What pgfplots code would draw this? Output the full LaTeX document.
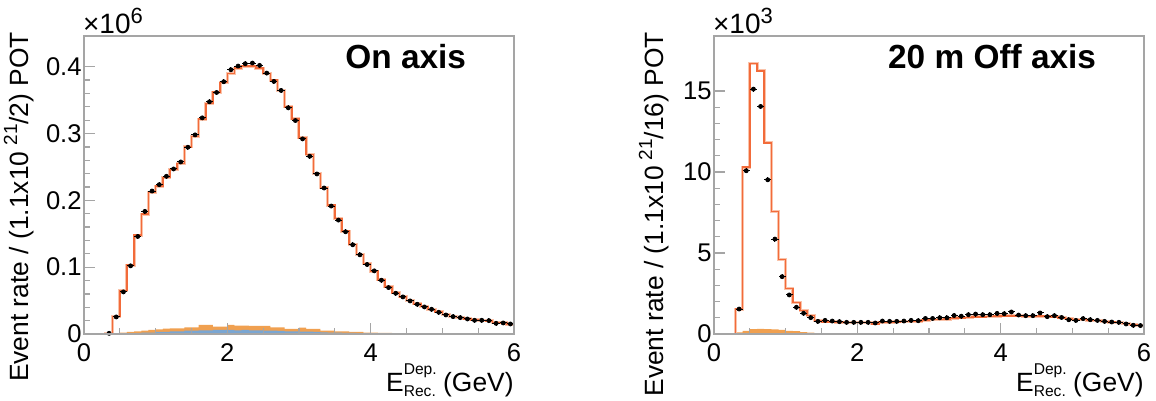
\documentclass[border=0pt]{standalone}
\usepackage{pgfplots}
\pgfplotsset{compat=1.18}
\usepackage{fontspec}
\setmainfont{Liberation Sans}
\definecolor{mcline}{RGB}{242,107,58}
\definecolor{mcband}{RGB}{250,195,170}
\definecolor{bkgorange}{RGB}{240,160,80}
\definecolor{bkgblue}{RGB}{122,166,210}
\definecolor{baseblue}{RGB}{140,190,230}
\definecolor{framegray}{RGB}{165,165,165}
\pgfplotsset{
 rootstyle/.style={
  scale only axis, width=215pt, height=149pt,
  xmin=0, xmax=6, xtick={0,2,4,6}, minor x tick num=3,
  tick align=inside, xtick pos=bottom, ytick pos=left,
  axis line style={framegray, line width=0.6pt},
  every tick/.style={framegray, line width=0.6pt},
  major tick length=5.5pt, minor tick length=2.75pt,
  tick label style={font=\fontsize{12.8}{14}\selectfont, text=black},
  /pgf/number format/assume math mode=true,
  xticklabel style={yshift=-1.5pt},
  yticklabel style={inner xsep=1pt},
  scaled ticks=false,
  clip mode=individual,
  axis on top,
 },
 datastyle/.style={only marks, mark=*, mark size=1.0pt, black,
  error bars/.cd, x dir=both, x fixed=0.05, y dir=both, y fixed=#1,
  error mark=none, error bar style={line width=0.5pt, black}},
}
\newcommand{\lbl}{\fontsize{13.2}{15}\selectfont}
\newcommand{\sml}{\fontsize{7.8}{8}\selectfont}
\begin{document}
\begin{tikzpicture}
\useasboundingbox (0,0) rectangle (578pt,200.5pt);
% ---------------- left: On axis ----------------
\begin{axis}[rootstyle, at={(42pt,33.5pt)}, anchor=south west,
  ymin=0, ymax=0.446, ytick={0,0.1,0.2,0.3,0.4}, minor y tick num=4]
\addplot[const plot mark left, fill=bkgorange, draw=none] table {
x y
0.5 0.002
0.6 0.003
0.7 0.004
0.8 0.005
0.9 0.006
1.0 0.007
1.1 0.008
1.2 0.0085
1.3 0.0085
1.4 0.010
1.5 0.010
1.6 0.0135
1.7 0.0135
1.8 0.011
1.9 0.011
2.0 0.0135
2.1 0.0125
2.2 0.0125
2.3 0.012
2.4 0.012
2.5 0.012
2.6 0.010
2.7 0.010
2.8 0.0075
2.9 0.0075
3.0 0.0095
3.1 0.0075
3.2 0.0075
3.3 0.005
3.4 0.005
3.5 0.004
3.6 0.004
3.7 0.003
3.8 0.003
3.9 0.002
4.0 0.002
4.1 0.0015
4.2 0.0015
4.3 0.001
4.5 0.0007
4.8 0.0004
6.0 0.0004
} \closedcycle;
\addplot[const plot mark left, fill=bkgblue, draw=none] table {
x y
0.7 0.001
0.8 0.002
0.9 0.002
1.0 0.003
1.1 0.003
1.2 0.004
1.3 0.004
1.4 0.005
1.5 0.005
1.6 0.0055
1.7 0.0055
1.8 0.006
1.9 0.006
2.0 0.006
2.1 0.0055
2.2 0.006
2.3 0.0055
2.4 0.0055
2.5 0.005
2.6 0.005
2.7 0.0045
2.8 0.004
2.9 0.004
3.0 0.0035
3.1 0.0035
3.2 0.003
3.3 0.0025
3.4 0.002
3.5 0.002
3.6 0.0015
3.7 0.0015
3.8 0.001
3.9 0.001
4.0 0.0005
4.1 0
6.0 0
} \closedcycle;
\addplot[baseblue, line width=1pt] coordinates {(0,0) (6,0)};
\addplot[const plot mark left, mcband, line width=1.5pt] table {
x y
0.3 0
0.3 0.001
0.4 0.026
0.5 0.065
0.6 0.103
0.7 0.148
0.8 0.1795
0.9 0.212
1.0 0.2215
1.1 0.234
1.2 0.246
1.3 0.255
1.4 0.280
1.5 0.296
1.6 0.3215
1.7 0.345
1.8 0.362
1.9 0.376
2.0 0.390
2.1 0.398
2.2 0.401
2.3 0.401
2.4 0.398
2.5 0.390
2.6 0.380
2.7 0.364
2.8 0.340
2.9 0.322
3.0 0.2935
3.1 0.2685
3.2 0.240
3.3 0.2195
3.4 0.193
3.5 0.1725
3.6 0.154
3.7 0.134
3.8 0.119
3.9 0.105
4.0 0.094
4.1 0.081
4.2 0.0705
4.3 0.0615
4.4 0.0555
4.5 0.050
4.6 0.045
4.7 0.041
4.8 0.037
4.9 0.033
5.0 0.029
5.1 0.0265
5.2 0.0245
5.3 0.0225
5.4 0.021
5.5 0.0205
5.6 0.0195
5.7 0.017
5.8 0.0165
5.9 0.0145
6.0 0.0145
};
\addplot[const plot mark left, mcline, line width=0.7pt] table {
x y
0.3 0
0.3 0.001
0.4 0.026
0.5 0.065
0.6 0.103
0.7 0.148
0.8 0.1795
0.9 0.212
1.0 0.2215
1.1 0.234
1.2 0.246
1.3 0.255
1.4 0.280
1.5 0.296
1.6 0.3215
1.7 0.345
1.8 0.362
1.9 0.376
2.0 0.390
2.1 0.398
2.2 0.401
2.3 0.401
2.4 0.398
2.5 0.390
2.6 0.380
2.7 0.364
2.8 0.340
2.9 0.322
3.0 0.2935
3.1 0.2685
3.2 0.240
3.3 0.2195
3.4 0.193
3.5 0.1725
3.6 0.154
3.7 0.134
3.8 0.119
3.9 0.105
4.0 0.094
4.1 0.081
4.2 0.0705
4.3 0.0615
4.4 0.0555
4.5 0.050
4.6 0.045
4.7 0.041
4.8 0.037
4.9 0.033
5.0 0.029
5.1 0.0265
5.2 0.0245
5.3 0.0225
5.4 0.021
5.5 0.0205
5.6 0.0195
5.7 0.017
5.8 0.0165
5.9 0.0145
6.0 0.0145
};
\addplot[datastyle=0.0035] table {
x y
0.35 0.001
0.45 0.0255
0.55 0.063
0.65 0.102
0.75 0.146
0.85 0.1835
0.95 0.214
1.05 0.2235
1.15 0.236
1.25 0.247
1.35 0.2575
1.45 0.2795
1.55 0.298
1.65 0.3235
1.75 0.3475
1.85 0.3615
1.95 0.3775
2.05 0.3955
2.15 0.401
2.25 0.4045
2.35 0.4055
2.45 0.402
2.55 0.3905
2.65 0.378
2.75 0.3645
2.85 0.3385
2.95 0.3195
3.05 0.292
3.15 0.266
3.25 0.2395
3.35 0.2185
3.45 0.1915
3.55 0.1705
3.65 0.153
3.75 0.1335
3.85 0.1185
3.95 0.104
4.05 0.0945
4.15 0.0805
4.25 0.0695
4.35 0.061
4.45 0.0555
4.55 0.0495
4.65 0.0445
4.75 0.0405
4.85 0.037
4.95 0.0325
5.05 0.0285
5.15 0.026
5.25 0.0245
5.35 0.0225
5.45 0.0205
5.55 0.0205
5.65 0.020
5.75 0.016
5.85 0.0165
5.95 0.015
};
\node[anchor=base east, font=\fontsize{16.7}{18}\selectfont\bfseries] at (rel axis cs:0.905,0.892) {On axis};
\node[anchor=base west, inner sep=0pt, font=\fontsize{14}{15}\selectfont] at (rel axis cs:-0.003,1.01) {×10\raisebox{5pt}{\fontsize{11}{11}\selectfont 6}};
\node[anchor=base east, inner sep=0pt, rotate=90, font=\lbl] at (rel axis cs:-0.1302,1.015) {Event rate / (1.1x10\hspace{3pt}\raisebox{5.5pt}{\fontsize{9.5}{9.5}\selectfont 21}/2) POT};
\node[anchor=base east, inner sep=0pt, font=\lbl] at (rel axis cs:1,-0.1946) {E\rlap{\raisebox{8.5pt}{\sml Dep.}}\raisebox{-2.5pt}{\sml Rec.} (GeV)};
\end{axis}
% ---------------- right: 20 m Off axis ----------------
\begin{axis}[rootstyle, at={(357pt,33.5pt)}, anchor=south west,
  ymin=0, ymax=18.4, ytick={0,5,10,15}, minor y tick num=4]
\addplot[const plot mark left, fill=bkgorange, draw=none] table {
x y
0.3 0.1
0.4 0.2
0.5 0.3
0.6 0.32
0.7 0.3
0.8 0.28
0.9 0.25
1.0 0.2
1.1 0.18
1.2 0.12
1.3 0.08
1.4 0.05
1.5 0.04
2.0 0.03
3.0 0.02
6.0 0.02
} \closedcycle;
\addplot[const plot mark left, fill=bkgblue, draw=none] table {
x y
0.4 0.03
1.5 0.02
6.0 0.02
} \closedcycle;
\addplot[baseblue, line width=1pt] coordinates {(0,0) (6,0)};
\addplot[const plot mark left, mcband, line width=1.5pt] table {
x y
0.3 0
0.3 1.54
0.4 10.3
0.5 16.7
0.6 16.25
0.7 11.8
0.8 7.55
0.9 4.6
1.0 2.8
1.1 1.95
1.2 1.44
1.3 1.13
1.4 0.85
1.5 0.75
1.6 0.75
1.7 0.74
1.8 0.72
1.9 0.72
2.0 0.72
2.1 0.70
2.2 0.62
2.3 0.74
2.4 0.74
2.5 0.75
2.6 0.76
2.7 0.78
2.8 0.80
2.9 0.86
3.0 0.88
3.1 0.90
3.2 0.92
3.3 0.98
3.4 1.00
3.5 1.02
3.6 1.05
3.7 1.06
3.8 1.08
3.9 1.10
4.0 1.12
4.1 1.12
4.2 1.12
4.3 1.10
4.4 1.08
4.5 1.10
4.6 1.10
4.7 1.05
4.8 1.00
4.9 0.95
5.0 0.90
5.1 0.88
5.2 0.85
5.3 0.82
5.4 0.78
5.5 0.74
5.6 0.70
5.7 0.65
5.8 0.58
5.9 0.54
6.0 0.54
};
\addplot[const plot mark left, mcline, line width=0.7pt] table {
x y
0.3 0
0.3 1.54
0.4 10.3
0.5 16.7
0.6 16.25
0.7 11.8
0.8 7.55
0.9 4.6
1.0 2.8
1.1 1.95
1.2 1.44
1.3 1.13
1.4 0.85
1.5 0.75
1.6 0.75
1.7 0.74
1.8 0.72
1.9 0.72
2.0 0.72
2.1 0.70
2.2 0.62
2.3 0.74
2.4 0.74
2.5 0.75
2.6 0.76
2.7 0.78
2.8 0.80
2.9 0.86
3.0 0.88
3.1 0.90
3.2 0.92
3.3 0.98
3.4 1.00
3.5 1.02
3.6 1.05
3.7 1.06
3.8 1.08
3.9 1.10
4.0 1.12
4.1 1.12
4.2 1.12
4.3 1.10
4.4 1.08
4.5 1.10
4.6 1.10
4.7 1.05
4.8 1.00
4.9 0.95
5.0 0.90
5.1 0.88
5.2 0.85
5.3 0.82
5.4 0.78
5.5 0.74
5.6 0.70
5.7 0.65
5.8 0.58
5.9 0.54
6.0 0.54
};
\addplot[datastyle=0.15] table {
x y
0.35 1.54
0.45 10.08
0.55 15.12
0.65 14.05
0.75 9.52
0.85 5.86
0.95 3.54
1.05 2.41
1.15 1.65
1.25 1.28
1.35 1.01
1.45 0.78
1.55 0.84
1.65 0.80
1.75 0.76
1.85 0.72
1.95 0.72
2.05 0.72
2.15 0.72
2.25 0.68
2.35 0.80
2.45 0.78
2.55 0.78
2.65 0.80
2.75 0.84
2.85 0.82
2.95 0.96
3.05 0.96
3.15 1.0
3.25 1.0
3.35 1.14
3.45 1.10
3.55 1.19
3.65 1.23
3.75 1.19
3.85 1.19
3.95 1.27
4.05 1.25
4.15 1.36
4.25 1.17
4.35 1.13
4.45 1.13
4.55 1.30
4.65 1.07
4.75 1.13
4.85 1.02
4.95 0.88
5.05 0.84
5.15 0.95
5.25 0.88
5.35 0.84
5.45 0.78
5.55 0.74
5.65 0.72
5.75 0.62
5.85 0.54
5.95 0.52
};
\node[anchor=base east, font=\fontsize{16.7}{18}\selectfont\bfseries] at (rel axis cs:0.905,0.892) {20 m Off axis};
\node[anchor=base west, inner sep=0pt, font=\fontsize{14}{15}\selectfont] at (rel axis cs:-0.003,1.01) {×10\raisebox{5pt}{\fontsize{11}{11}\selectfont 3}};
\node[anchor=base east, inner sep=0pt, rotate=90, font=\lbl] at (rel axis cs:-0.1186,1.015) {Event rate / (1.1x10\hspace{3pt}\raisebox{5.5pt}{\fontsize{9.5}{9.5}\selectfont 21}/16) POT};
\node[anchor=base east, inner sep=0pt, font=\lbl] at (rel axis cs:1,-0.1946) {E\rlap{\raisebox{8.5pt}{\sml Dep.}}\raisebox{-2.5pt}{\sml Rec.} (GeV)};
\end{axis}
\end{tikzpicture}
\end{document}
